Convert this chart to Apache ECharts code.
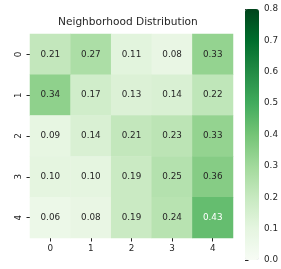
<!DOCTYPE html>
<html><head><meta charset="utf-8">
<script src="https://cdn.jsdelivr.net/npm/echarts@6/dist/echarts.min.js"></script>
<style>html,body{margin:0;padding:0;background:#fff}#c{width:281px;height:269px}</style>
</head><body><div id="c"></div>
<script>
const xLabels = ['0','1','2','3','4'];
const yLabels = ['0','1','2','3','4'];
const values = [
  [0.21, 0.27, 0.11, 0.08, 0.33],
  [0.34, 0.17, 0.13, 0.14, 0.22],
  [0.09, 0.14, 0.21, 0.23, 0.33],
  [0.10, 0.10, 0.19, 0.25, 0.36],
  [0.06, 0.08, 0.19, 0.24, 0.43]
];
const cbTicks = [0, 0.1, 0.2, 0.3, 0.4, 0.5, 0.6, 0.7, 0.8];
const greens = ['#f7fcf5','#e5f5e0','#c7e9c0','#a1d99b','#74c476','#41ab5d','#238b45','#006d2c','#00441b'];
const FONT = 'DejaVu Sans';
const TXT = '#262626';
const FS = 8.8;

const data = [];
values.forEach((row, r) => row.forEach((v, c) => {
  data.push({ value: [c, r, v], label: { color: v > 0.4 ? '#ffffff' : TXT } });
}));

const chart = echarts.init(document.getElementById('c'), null, { renderer: 'canvas' });
chart.setOption({
  animation: false,
  title: {
    text: 'Neighborhood Distribution', left: 58, top: 17, padding: 0,
    textStyle: { fontFamily: FONT, fontSize: 10.6, fontWeight: 'normal', color: TXT }
  },
  grid: [
    { left: 30, top: 34, width: 203, height: 204 },
    { left: 245, top: 9, width: 14, height: 251 }
  ],
  xAxis: [
    { type: 'category', data: xLabels, gridIndex: 0, position: 'bottom',
      axisLine: { show: false }, splitLine: { show: false }, splitArea: { show: false },
      axisTick: { show: true, alignWithLabel: true, length: 3.5, lineStyle: { color: TXT } },
      axisLabel: { fontFamily: FONT, fontSize: FS, color: TXT, margin: 6 } },
    { type: 'value', gridIndex: 1, show: false, min: 0, max: 1 }
  ],
  yAxis: [
    { type: 'category', data: yLabels, gridIndex: 0, inverse: true,
      axisLine: { show: false }, splitLine: { show: false }, splitArea: { show: false },
      axisTick: { show: true, alignWithLabel: true, length: 3.5, lineStyle: { color: TXT } },
      axisLabel: { fontFamily: FONT, fontSize: FS, color: TXT, rotate: 90, margin: 7 } },
    { type: 'value', gridIndex: 1, position: 'right', min: 0, max: 0.8, interval: 0.1,
      axisLine: { show: false }, splitLine: { show: false },
      axisTick: { show: true, length: 3.5, lineStyle: { color: TXT } },
      axisLabel: { fontFamily: FONT, fontSize: FS, color: TXT, margin: 6,
        formatter: v => cbTicks.find(t => Math.abs(t - v) < 1e-9) !== undefined ? v.toFixed(1) : '' } }
  ],
  visualMap: {
    type: 'continuous', min: 0, max: 0.8, seriesIndex: 0, calculable: false,
    show: true, left: 245, top: 9, itemWidth: 14, itemHeight: 251, padding: 0,
    text: null, showLabel: false, hoverLink: false,
    inRange: { color: greens }
  },
  series: [
    { type: 'heatmap', xAxisIndex: 0, yAxisIndex: 0, data: data,
      label: { show: true, fontFamily: FONT, fontSize: FS, formatter: p => p.value[2].toFixed(2) },
      itemStyle: { borderWidth: 0 }, emphasis: { disabled: true } },
    { type: 'scatter', xAxisIndex: 1, yAxisIndex: 1, data: [] }
  ]
});
</script></body></html>
